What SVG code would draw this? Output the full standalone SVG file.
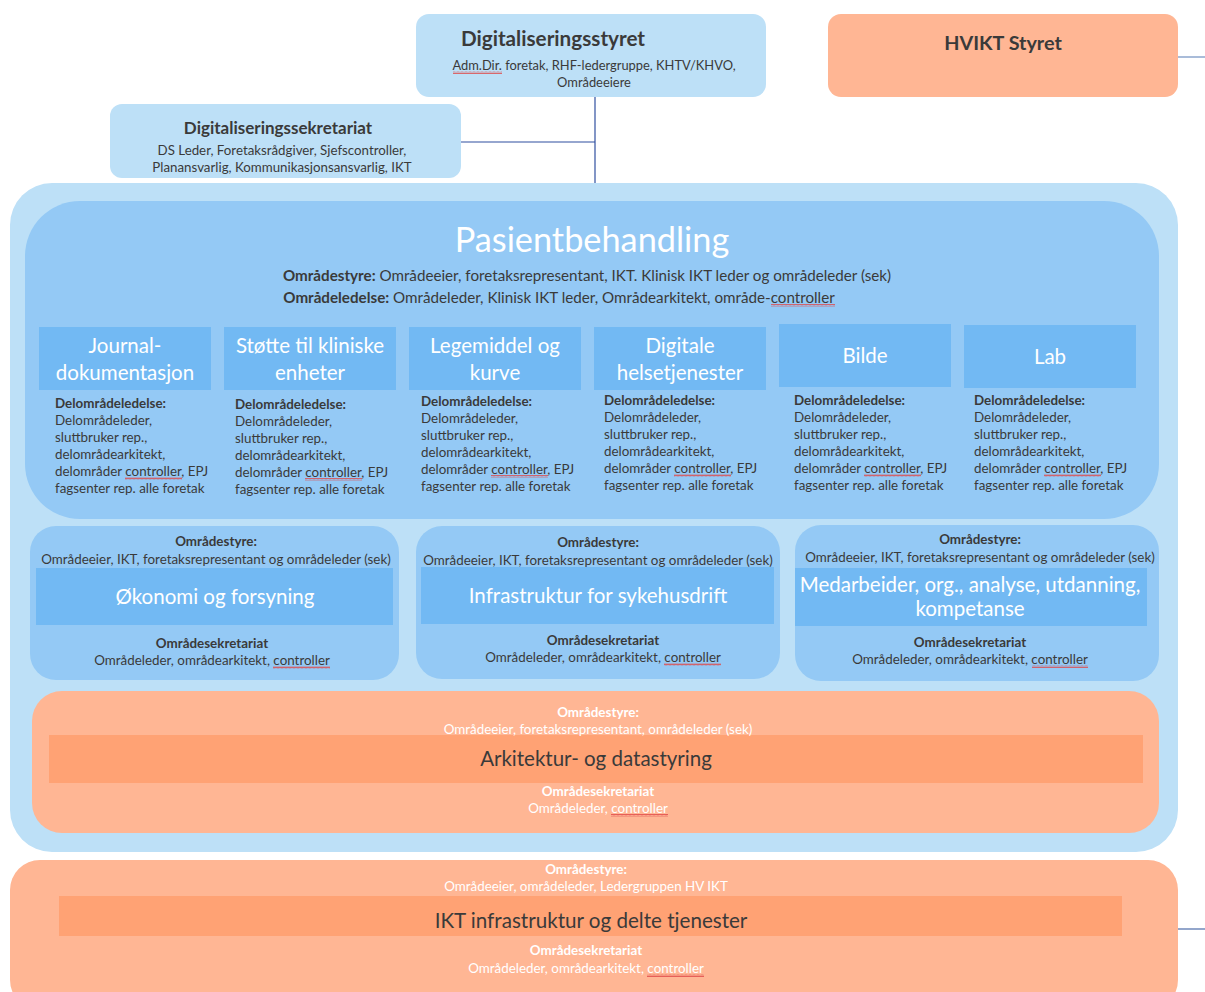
<svg xmlns="http://www.w3.org/2000/svg" width="1205" height="992" viewBox="0 0 1205 992">
<defs>
<pattern id="wave" width="4" height="3" patternUnits="userSpaceOnUse">
<path d="M0,2.4 L1,0.6 L2,2.4 L3,0.6 L4,2.4" fill="none" stroke="#e04848" stroke-width="0.8"/>
</pattern>
</defs>
<style>
text{font-family:Lato,"Open Sans","DejaVu Sans",sans-serif;fill:#3a3a3a}
.c{text-anchor:middle}
.b{font-weight:bold}
.w{fill:#ffffff}
.lb{fill:#bde0f7}
.mb{fill:#94c9f5}
.hb{fill:#72b9f3}
.or{fill:#ffb694}
.od{fill:#ffa274}
.conn{stroke:#2f4f9f;stroke-width:1.2;fill:none}
.hd{font-size:20.5px;fill:#ffffff;text-anchor:middle}
.sm{font-size:13.4px}
.mid{font-size:13.4px;text-anchor:middle}
.sq{fill:url(#wave)}
</style>
<rect width="1205" height="992" fill="#ffffff"/>

<g id="connectors">
<line class="conn" x1="595" y1="97" x2="595" y2="184"/>
<line class="conn" x1="461" y1="142" x2="595" y2="142"/>
<line class="conn" x1="1178" y1="57" x2="1205" y2="57" style="stroke:#6f8fc0"/>
<line class="conn" x1="1178" y1="929" x2="1205" y2="929" style="stroke:#4a6aa8"/>
</g>

<g id="digitaliseringsstyret">
<rect class="lb" x="416" y="14" width="350" height="83" rx="13"/>
<text class="b c" x="553" y="46" font-size="20.7">Digitaliseringsstyret</text>
<text class="c" x="594" y="70" font-size="12.9">Adm.Dir. foretak, RHF-ledergruppe, KHTV/KHVO,</text>
<text class="c" x="594" y="87" font-size="12.9">Områdeeiere</text>
</g>

<g id="hvikt-styret">
<rect class="or" x="828" y="14" width="350" height="83" rx="13"/>
<text class="b c" x="1003" y="50" font-size="19.8">HVIKT Styret</text>
</g>

<g id="digitaliseringssekretariat">
<rect class="lb" x="110" y="104" width="351" height="74" rx="12"/>
<text class="b c" x="278" y="134" font-size="17">Digitaliseringssekretariat</text>
<text class="c" x="282" y="155" font-size="13.3">DS Leder, Foretaksrådgiver, Sjefscontroller,</text>
<text class="c" x="282" y="172" font-size="13.3">Planansvarlig, Kommunikasjonsansvarlig, IKT</text>
</g>

<g id="hovedomrade">
<rect class="lb" x="10" y="183" width="1168" height="669" rx="42"/>
</g>

<g id="pasientbehandling">
<rect class="mb" x="25" y="201" width="1134" height="318" rx="55"/>
<text class="w c" x="592" y="252" font-size="34.3">Pasientbehandling</text>
<text class="c" x="587" y="281" font-size="15.2"><tspan class="b">Områdestyre:</tspan> Områdeeier, foretaksrepresentant, IKT. Klinisk IKT leder og områdeleder (sek)</text>
<text class="c" x="559" y="303" font-size="15.2"><tspan class="b">Områdeledelse:</tspan> Områdeleder, Klinisk IKT leder, Områdearkitekt, område-controller</text>
</g>

<g id="journal">
<rect class="hb" x="39" y="327" width="172" height="63"/>
<text class="hd" x="125" y="353">Journal-</text>
<text class="hd" x="125" y="380">dokumentasjon</text>
<text class="sm" x="55" y="408"><tspan class="b">Delområdeledelse:</tspan><tspan x="55" dy="17">Delområdeleder,</tspan><tspan x="55" dy="17">sluttbruker rep.,</tspan><tspan x="55" dy="17">delområdearkitekt,</tspan><tspan x="55" dy="17">delområder controller, EPJ</tspan><tspan x="55" dy="17">fagsenter rep. alle foretak</tspan></text>
</g>

<g id="stotte">
<rect class="hb" x="224" y="327" width="172" height="63"/>
<text class="hd" x="310" y="353">Støtte til kliniske</text>
<text class="hd" x="310" y="380">enheter</text>
<text class="sm" x="235" y="409"><tspan class="b">Delområdeledelse:</tspan><tspan x="235" dy="17">Delområdeleder,</tspan><tspan x="235" dy="17">sluttbruker rep.,</tspan><tspan x="235" dy="17">delområdearkitekt,</tspan><tspan x="235" dy="17">delområder controller, EPJ</tspan><tspan x="235" dy="17">fagsenter rep. alle foretak</tspan></text>
</g>

<g id="legemiddel">
<rect class="hb" x="409" y="327" width="172" height="63"/>
<text class="hd" x="495" y="353">Legemiddel og</text>
<text class="hd" x="495" y="380">kurve</text>
<text class="sm" x="421" y="406"><tspan class="b">Delområdeledelse:</tspan><tspan x="421" dy="17">Delområdeleder,</tspan><tspan x="421" dy="17">sluttbruker rep.,</tspan><tspan x="421" dy="17">delområdearkitekt,</tspan><tspan x="421" dy="17">delområder controller, EPJ</tspan><tspan x="421" dy="17">fagsenter rep. alle foretak</tspan></text>
</g>

<g id="digitale">
<rect class="hb" x="594" y="327" width="172" height="63"/>
<text class="hd" x="680" y="353">Digitale</text>
<text class="hd" x="680" y="380">helsetjenester</text>
<text class="sm" x="604" y="405"><tspan class="b">Delområdeledelse:</tspan><tspan x="604" dy="17">Delområdeleder,</tspan><tspan x="604" dy="17">sluttbruker rep.,</tspan><tspan x="604" dy="17">delområdearkitekt,</tspan><tspan x="604" dy="17">delområder controller, EPJ</tspan><tspan x="604" dy="17">fagsenter rep. alle foretak</tspan></text>
</g>

<g id="bilde">
<rect class="hb" x="779" y="324" width="172" height="63"/>
<text class="hd" x="865" y="363">Bilde</text>
<text class="sm" x="794" y="405"><tspan class="b">Delområdeledelse:</tspan><tspan x="794" dy="17">Delområdeleder,</tspan><tspan x="794" dy="17">sluttbruker rep.,</tspan><tspan x="794" dy="17">delområdearkitekt,</tspan><tspan x="794" dy="17">delområder controller, EPJ</tspan><tspan x="794" dy="17">fagsenter rep. alle foretak</tspan></text>
</g>

<g id="lab">
<rect class="hb" x="964" y="325" width="172" height="63"/>
<text class="hd" x="1050" y="364">Lab</text>
<text class="sm" x="974" y="405"><tspan class="b">Delområdeledelse:</tspan><tspan x="974" dy="17">Delområdeleder,</tspan><tspan x="974" dy="17">sluttbruker rep.,</tspan><tspan x="974" dy="17">delområdearkitekt,</tspan><tspan x="974" dy="17">delområder controller, EPJ</tspan><tspan x="974" dy="17">fagsenter rep. alle foretak</tspan></text>
</g>

<g id="okonomi">
<rect class="mb" x="30" y="526" width="369" height="154" rx="26"/>
<rect class="hb" x="36" y="568" width="357" height="57"/>
<text class="mid b" x="216" y="546">Områdestyre:</text>
<text class="mid" x="216" y="564">Områdeeier, IKT, foretaksrepresentant og områdeleder (sek)</text>
<text class="hd" x="215" y="604">Økonomi og forsyning</text>
<text class="mid b" x="212" y="648">Områdesekretariat</text>
<text class="mid" x="212" y="665">Områdeleder, områdearkitekt, controller</text>
</g>

<g id="infrastruktur">
<rect class="mb" x="416" y="526" width="364" height="153" rx="26"/>
<rect class="hb" x="421" y="567" width="353" height="57"/>
<text class="mid b" x="598" y="547">Områdestyre:</text>
<text class="mid" x="598" y="565">Områdeeier, IKT, foretaksrepresentant og områdeleder (sek)</text>
<text class="hd" x="598" y="603">Infrastruktur for sykehusdrift</text>
<text class="mid b" x="603" y="645">Områdesekretariat</text>
<text class="mid" x="603" y="662">Områdeleder, områdearkitekt, controller</text>
</g>

<g id="medarbeider">
<rect class="mb" x="795" y="525" width="364" height="156" rx="26"/>
<rect class="hb" x="795" y="568" width="352" height="58"/>
<text class="mid b" x="980" y="544">Områdestyre:</text>
<text class="mid" x="980" y="562">Områdeeier, IKT, foretaksrepresentant og områdeleder (sek)</text>
<text class="hd" x="970" y="592" font-size="19.4">Medarbeider, org., analyse, utdanning,</text>
<text class="hd" x="970" y="616" font-size="19.4">kompetanse</text>
<text class="mid b" x="970" y="647">Områdesekretariat</text>
<text class="mid" x="970" y="664">Områdeleder, områdearkitekt, controller</text>
</g>

<g id="arkitektur">
<rect class="or" x="32" y="691" width="1127" height="142" rx="30"/>
<rect class="od" x="49" y="735" width="1094" height="48"/>
<text class="mid b w" x="598" y="717">Områdestyre:</text>
<text class="mid w" x="598" y="734">Områdeeier, foretaksrepresentant, områdeleder (sek)</text>
<text class="c" x="596" y="766" font-size="20.5">Arkitektur- og datastyring</text>
<text class="mid b w" x="598" y="796">Områdesekretariat</text>
<text class="mid w" x="598" y="813">Områdeleder, controller</text>
</g>

<g id="ikt-infrastruktur">
<rect class="or" x="10" y="860" width="1168" height="150" rx="30"/>
<rect class="od" x="59" y="896" width="1063" height="40"/>
<text class="mid b w" x="586" y="874">Områdestyre:</text>
<text class="mid w" x="586" y="891">Områdeeier, områdeleder, Ledergruppen HV IKT</text>
<text class="c" x="591" y="928" font-size="20.6">IKT infrastruktur og delte tjenester</text>
<text class="mid b w" x="586" y="955">Områdesekretariat</text>
<text class="mid w" x="586" y="973">Områdeleder, områdearkitekt, controller</text>
</g>

<g id="spellcheck-marks">
<rect class="sq" x="453" y="71" width="49" height="3"/>
<rect class="sq" x="771" y="304" width="64" height="3"/>
<rect class="sq" x="125" y="477" width="57" height="3"/>
<rect class="sq" x="305" y="478" width="57" height="3"/>
<rect class="sq" x="491" y="475" width="57" height="3"/>
<rect class="sq" x="674" y="474" width="57" height="3"/>
<rect class="sq" x="864" y="474" width="57" height="3"/>
<rect class="sq" x="1044" y="474" width="57" height="3"/>
<rect class="sq" x="273" y="666" width="57" height="3"/>
<rect class="sq" x="664" y="663" width="57" height="3"/>
<rect class="sq" x="1032" y="665" width="56" height="3"/>
<rect class="sq" x="611" y="814" width="57" height="3"/>
<rect class="sq" x="647" y="974" width="57" height="3"/>
</g>
</svg>
